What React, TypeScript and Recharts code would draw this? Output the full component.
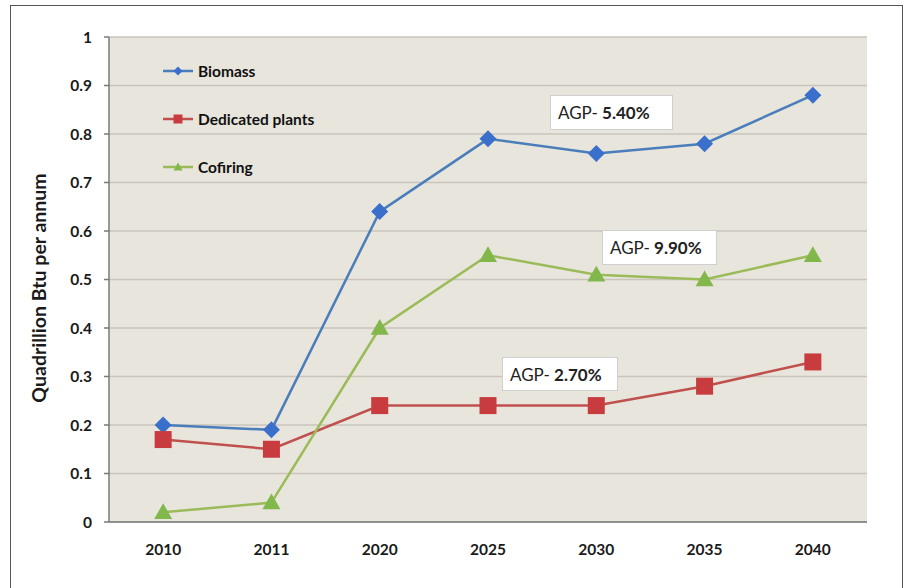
import React from 'react';
import {
  LineChart,
  Line,
  XAxis,
  YAxis,
  CartesianGrid,
  Legend,
} from 'recharts';

const years = ['2010', '2011', '2020', '2025', '2030', '2035', '2040'];
const biomass = [0.2, 0.19, 0.64, 0.79, 0.76, 0.78, 0.88];
const dedicatedPlants = [0.17, 0.15, 0.24, 0.24, 0.24, 0.28, 0.33];
const cofiring = [0.02, 0.04, 0.4, 0.55, 0.51, 0.5, 0.55];
const yTicks = [0, 0.1, 0.2, 0.3, 0.4, 0.5, 0.6, 0.7, 0.8, 0.9, 1];
const seriesOrder = ['biomass', 'dedicated', 'cofiring'];

const rows = years.map((year, i) => ({
  idx: i,
  year,
  biomass: biomass[i],
  dedicated: dedicatedPlants[i],
  cofiring: cofiring[i],
}));

const catTicks = years.map((_, i) => i);
const edgeTicks = [...years.map((_, i) => i - 0.5), years.length - 0.5];
const xDomain = [-0.5, years.length - 0.5];

const FONT = 'Lato, "Open Sans", sans-serif';

type Kind = 'diamond' | 'square' | 'triangle';

const seriesStyle: Record<string, { kind: Kind; line: string; fill: string }> = {
  biomass: { kind: 'diamond', line: '#4a7ebb', fill: '#3b6fcc' },
  dedicated: { kind: 'square', line: '#c0504d', fill: '#c83c3f' },
  cofiring: { kind: 'triangle', line: '#9bbb59', fill: '#82b74b' },
};

// marker shapes drawn at the position handed over by recharts
const shape = (kind: Kind, cx: number, cy: number, s: number, fill: string, key?: string) => {
  const h = s / 2;
  if (kind === 'diamond') {
    return (
      <polygon key={key} points={`${cx},${cy - h} ${cx + h},${cy} ${cx},${cy + h} ${cx - h},${cy}`} fill={fill} />
    );
  }
  if (kind === 'square') {
    return <rect key={key} x={cx - h} y={cy - h} width={s} height={s} fill={fill} />;
  }
  return (
    <polygon key={key} points={`${cx},${cy - h} ${cx + h},${cy + h * 0.75} ${cx - h},${cy + h * 0.75}`} fill={fill} />
  );
};

const makeDot = (name: string, size: number) => (p: any) => {
  const st = seriesStyle[name];
  return shape(st.kind, p.cx, p.cy, size, st.fill, `${name}-${p.index}`);
};

const renderLegend = (props: any) => {
  const items = [...(props.payload || [])].sort(
    (a: any, b: any) => seriesOrder.indexOf(a.dataKey) - seriesOrder.indexOf(b.dataKey)
  );
  return (
    <div style={{ fontFamily: FONT, fontWeight: 700, fontSize: 15.5, color: '#111' }}>
      {items.map((item: any) => {
        const st = seriesStyle[item.dataKey];
        return (
          <div key={item.dataKey} style={{ height: 48, display: 'flex', alignItems: 'center' }}>
            <svg width={30} height={12} style={{ marginRight: 5 }}>
              <line x1={0} y1={6} x2={30} y2={6} stroke={st.line} strokeWidth={2.5} />
              {shape(st.kind, 15, 6, 9, st.fill)}
            </svg>
            <span>{item.value}</span>
          </div>
        );
      })}
    </div>
  );
};

const notes = [
  { left: 550, top: 95, w: 123, h: 35, value: '5.40%' },
  { left: 602, top: 230, w: 115, h: 35, value: '9.90%' },
  { left: 502, top: 357, w: 116, h: 34, value: '2.70%' },
];

export default function App() {
  return (
    <div
      style={{
        position: 'absolute',
        left: 0,
        top: 0,
        width: 911,
        height: 588,
        overflow: 'hidden',
        background: '#fff',
      }}
    >
      <div
        style={{
          position: 'absolute',
          left: 10,
          top: 5,
          width: 893,
          height: 620,
          border: '1.5px solid #555',
          boxSizing: 'border-box',
        }}
      />
      <LineChart
        width={911}
        height={588}
        data={rows}
        margin={{ top: 37, right: 44, bottom: 20, left: 0 }}
        style={{ position: 'absolute', left: 0, top: 0 }}
      >
        <CartesianGrid vertical={false} stroke="#c9c5bd" strokeWidth={1.5} fill="#e8e5dd" fillOpacity={1} />
        <XAxis
          xAxisId="lab"
          dataKey="idx"
          type="number"
          domain={xDomain}
          ticks={catTicks}
          tickFormatter={(v: number) => years[v]}
          axisLine={false}
          tickLine={false}
          tickMargin={10}
          height={40}
          tick={{ fill: '#1a1a1a', fontSize: 15.5, fontWeight: 700, fontFamily: FONT }}
        />
        <XAxis
          type="number"
          domain={xDomain}
          ticks={edgeTicks}
          tick={false}
          tickSize={5}
          height={6}
          stroke="#7a7a7a"
          axisLine={{ stroke: '#7a7a7a', strokeWidth: 1.5 }}
          tickLine={{ stroke: '#7a7a7a', strokeWidth: 1.5 }}
        />
        <XAxis
          xAxisId="top"
          orientation="top"
          type="number"
          domain={xDomain}
          tick={false}
          tickLine={false}
          height={0}
          axisLine={{ stroke: '#a8a8a8', strokeWidth: 1.5 }}
        />
        <YAxis
          domain={[0, 1]}
          ticks={yTicks}
          width={109}
          tickSize={5}
          tickMargin={12}
          tickFormatter={(v: number) => String(v)}
          axisLine={{ stroke: '#7a7a7a', strokeWidth: 1.5 }}
          tickLine={{ stroke: '#7a7a7a', strokeWidth: 1.5 }}
          tick={{ fill: '#1a1a1a', fontSize: 15.5, fontWeight: 700, fontFamily: FONT }}
        />
        <YAxis
          yAxisId="right"
          orientation="right"
          domain={[0, 1]}
          width={0}
          tick={false}
          tickLine={false}
          axisLine={{ stroke: '#7a7a7a', strokeWidth: 1.5 }}
        />
        <Legend
          layout="vertical"
          align="center"
          verticalAlign="middle"
          wrapperStyle={{ top: 47, left: 163, width: 220 }}
          content={renderLegend}
        />
        <Line
          xAxisId="lab"
          dataKey="biomass"
          name="Biomass"
          stroke={seriesStyle.biomass.line}
          strokeWidth={2.5}
          dot={makeDot('biomass', 17)}
          activeDot={false}
          isAnimationActive={false}
        />
        <Line
          xAxisId="lab"
          dataKey="dedicated"
          name="Dedicated plants"
          stroke={seriesStyle.dedicated.line}
          strokeWidth={2.5}
          dot={makeDot('dedicated', 17)}
          activeDot={false}
          isAnimationActive={false}
        />
        <Line
          xAxisId="lab"
          dataKey="cofiring"
          name="Cofiring"
          stroke={seriesStyle.cofiring.line}
          strokeWidth={2.5}
          dot={makeDot('cofiring', 18)}
          activeDot={false}
          isAnimationActive={false}
        />
      </LineChart>
      <div
        style={{
          position: 'absolute',
          left: 38,
          top: 288,
          transform: 'translate(-50%, -50%) rotate(-90deg)',
          whiteSpace: 'nowrap',
          fontFamily: FONT,
          fontWeight: 700,
          fontSize: 19.5,
          color: '#1a1a1a',
        }}
      >
        Quadrillion Btu per annum
      </div>
      {notes.map((n) => (
        <div
          key={n.value}
          style={{
            position: 'absolute',
            left: n.left,
            top: n.top,
            width: n.w,
            height: n.h,
            background: '#fff',
            border: '1px solid #cfcfcf',
            boxSizing: 'border-box',
            display: 'flex',
            alignItems: 'center',
            paddingLeft: 7,
            fontFamily: FONT,
            fontSize: 17,
            color: '#222',
          }}
        >
          AGP-&nbsp;<b>{n.value}</b>
        </div>
      ))}
    </div>
  );
}
